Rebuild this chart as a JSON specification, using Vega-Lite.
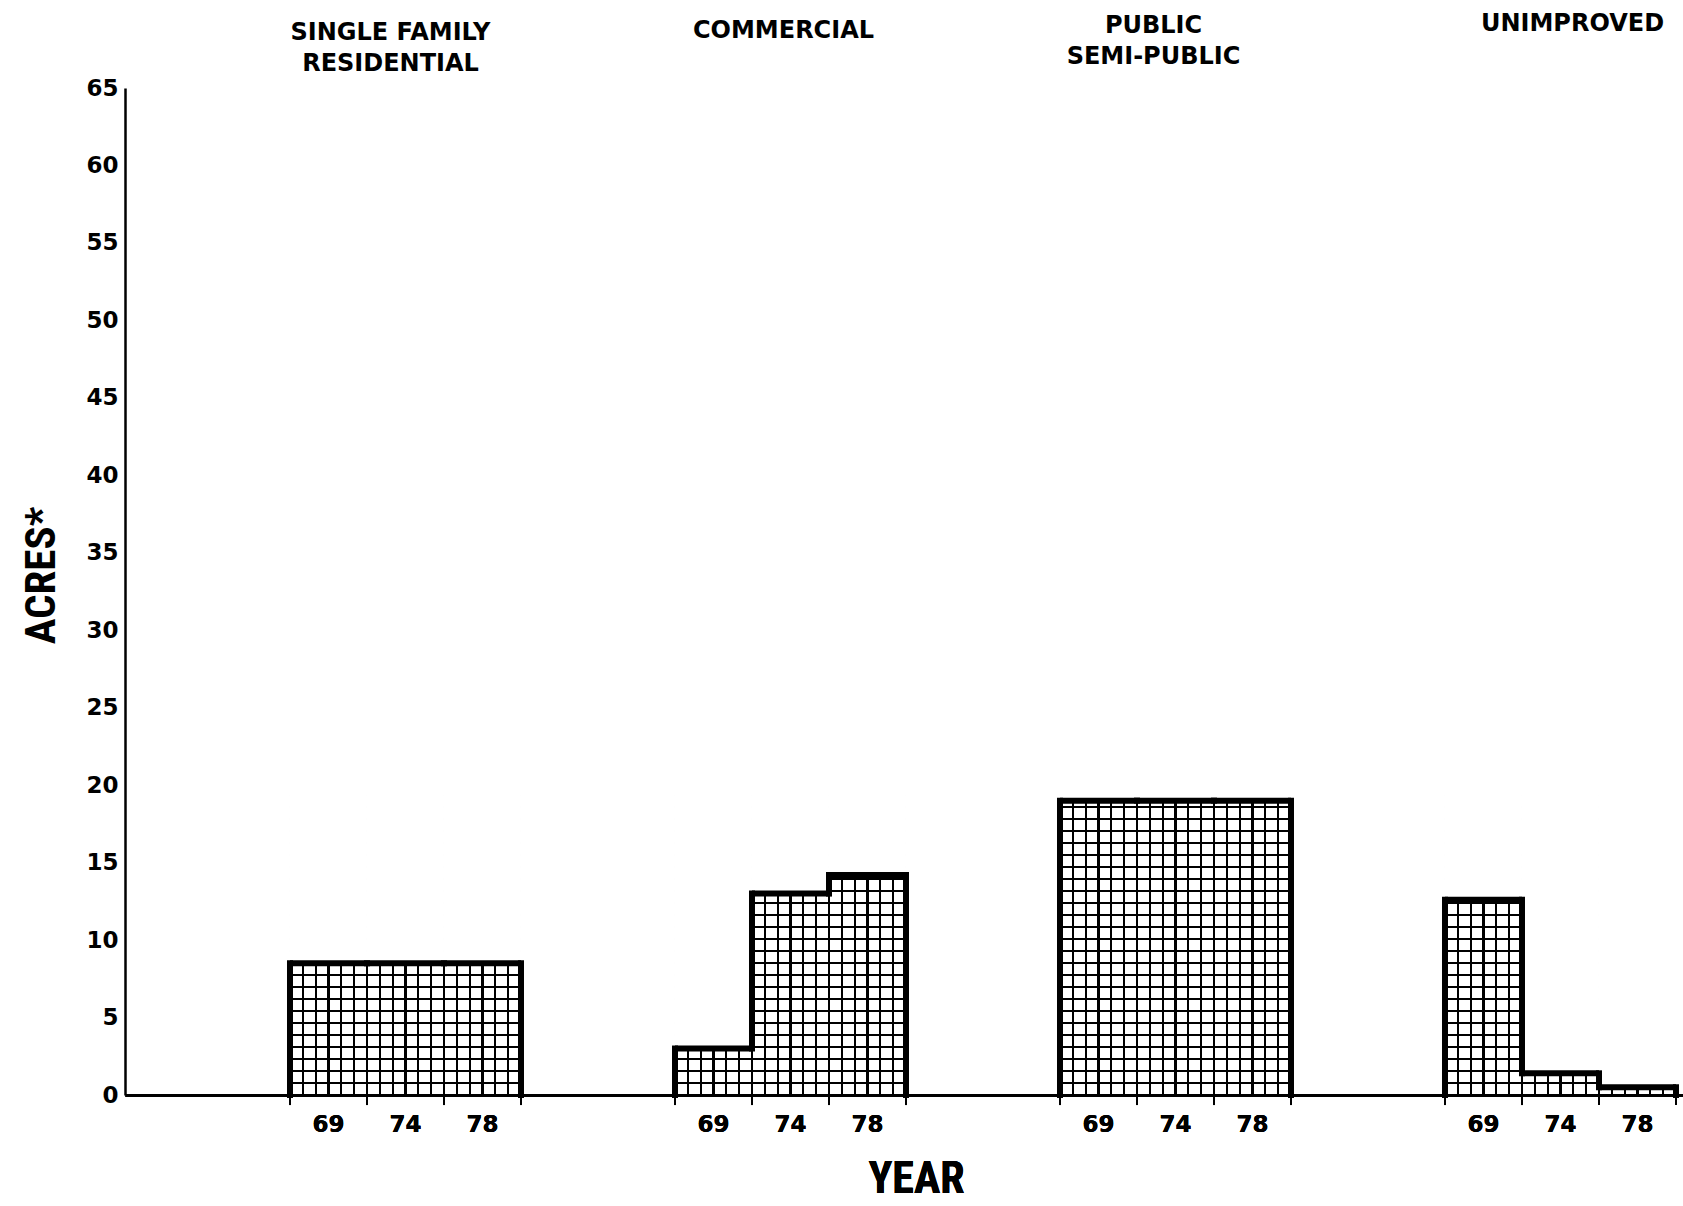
{
  "$schema": "https://vega.github.io/schema/vega-lite/v6.json",
  "width": 1558,
  "height": 1007,
  "autosize": {"type": "none"},
  "padding": {"left": 125, "top": 88, "right": 0, "bottom": 111},
  "background": "white",
  "config": {"view": {"stroke": null}, "axis": {"grid": false}},
  "data": {
    "values": [
      {"use": "Single Family Residential", "year": "69", "acres": 8.5},
      {"use": "Single Family Residential", "year": "74", "acres": 8.5},
      {"use": "Single Family Residential", "year": "78", "acres": 8.5},
      {"use": "Commercial", "year": "69", "acres": 3.0},
      {"use": "Commercial", "year": "74", "acres": 13.0},
      {"use": "Commercial", "year": "78", "acres": 14.2},
      {"use": "Public/Semi-Public", "year": "69", "acres": 19.0},
      {"use": "Public/Semi-Public", "year": "74", "acres": 19.0},
      {"use": "Public/Semi-Public", "year": "78", "acres": 19.0},
      {"use": "Unimproved", "year": "69", "acres": 12.6},
      {"use": "Unimproved", "year": "74", "acres": 1.4},
      {"use": "Unimproved", "year": "78", "acres": 0.5}
    ]
  },
  "transform": [
    {"calculate": "datum.use + '|' + datum.year", "as": "slot"},
    {"window": [{"op": "lag", "field": "acres", "as": "prev"}], "groupby": ["use"], "sort": [{"field": "year"}]},
    {"calculate": "datum.prev == null ? 0 : datum.prev", "as": "prev0"}
  ],
  "encoding": {
    "x": {
      "field": "slot", "type": "nominal",
      "scale": {"domain": ["_a", "_b", "Single Family Residential|69", "Single Family Residential|74", "Single Family Residential|78", "_c", "_d", "Commercial|69", "Commercial|74", "Commercial|78", "_e", "_f", "Public/Semi-Public|69", "Public/Semi-Public|74", "Public/Semi-Public|78", "_g", "_h", "Unimproved|69", "Unimproved|74", "Unimproved|78"], "paddingInner": 0, "paddingOuter": 0.11688, "align": 0.6111},
      "axis": {
        "orient": "bottom",
        "labelExpr": "indexof(datum.value, '|') > 0 ? split(datum.value, '|')[1] : ''",
        "labelFont": "DejaVu Sans", "labelFontWeight": "bold", "labelFontSize": 23, "labelColor": "black",
        "labelPadding": 18, "labelAngle": 0, "labelOverlap": false,
        "ticks": false, "tickSize": 0,
        "domainColor": "black", "domainWidth": 3, "zindex": 1,
        "title": "YEAR", "titleFont": "Liberation Sans Narrow, Roboto Condensed, DejaVu Sans Condensed, Liberation Sans, sans-serif",
        "titleFontWeight": "bold", "titleFontSize": 44, "titleColor": "black", "titlePadding": 21, "titleX": 791
      }
    }
  },
  "layer": [
    {
      "mark": {"type": "bar", "fill": {"gradient": "linear", "x1": 0, "y1": 0, "x2": 0, "y2": 1, "stops": [
        {"offset": 0, "color": "black"}, {"offset": 0.003333, "color": "black"}, {"offset": 0.003333, "color": "rgba(0,0,0,0)"},
        {"offset": 0.036667, "color": "rgba(0,0,0,0)"}, {"offset": 0.036667, "color": "black"}, {"offset": 0.043333, "color": "black"}, {"offset": 0.043333, "color": "rgba(0,0,0,0)"},
        {"offset": 0.076667, "color": "rgba(0,0,0,0)"}, {"offset": 0.076667, "color": "black"}, {"offset": 0.083333, "color": "black"}, {"offset": 0.083333, "color": "rgba(0,0,0,0)"},
        {"offset": 0.116667, "color": "rgba(0,0,0,0)"}, {"offset": 0.116667, "color": "black"}, {"offset": 0.123333, "color": "black"}, {"offset": 0.123333, "color": "rgba(0,0,0,0)"},
        {"offset": 0.156667, "color": "rgba(0,0,0,0)"}, {"offset": 0.156667, "color": "black"}, {"offset": 0.163333, "color": "black"}, {"offset": 0.163333, "color": "rgba(0,0,0,0)"},
        {"offset": 0.196667, "color": "rgba(0,0,0,0)"}, {"offset": 0.196667, "color": "black"}, {"offset": 0.203333, "color": "black"}, {"offset": 0.203333, "color": "rgba(0,0,0,0)"},
        {"offset": 0.236667, "color": "rgba(0,0,0,0)"}, {"offset": 0.236667, "color": "black"}, {"offset": 0.243333, "color": "black"}, {"offset": 0.243333, "color": "rgba(0,0,0,0)"},
        {"offset": 0.276667, "color": "rgba(0,0,0,0)"}, {"offset": 0.276667, "color": "black"}, {"offset": 0.283333, "color": "black"}, {"offset": 0.283333, "color": "rgba(0,0,0,0)"},
        {"offset": 0.316667, "color": "rgba(0,0,0,0)"}, {"offset": 0.316667, "color": "black"}, {"offset": 0.323333, "color": "black"}, {"offset": 0.323333, "color": "rgba(0,0,0,0)"},
        {"offset": 0.356667, "color": "rgba(0,0,0,0)"}, {"offset": 0.356667, "color": "black"}, {"offset": 0.363333, "color": "black"}, {"offset": 0.363333, "color": "rgba(0,0,0,0)"},
        {"offset": 0.396667, "color": "rgba(0,0,0,0)"}, {"offset": 0.396667, "color": "black"}, {"offset": 0.403333, "color": "black"}, {"offset": 0.403333, "color": "rgba(0,0,0,0)"},
        {"offset": 0.436667, "color": "rgba(0,0,0,0)"}, {"offset": 0.436667, "color": "black"}, {"offset": 0.443333, "color": "black"}, {"offset": 0.443333, "color": "rgba(0,0,0,0)"},
        {"offset": 0.476667, "color": "rgba(0,0,0,0)"}, {"offset": 0.476667, "color": "black"}, {"offset": 0.483333, "color": "black"}, {"offset": 0.483333, "color": "rgba(0,0,0,0)"},
        {"offset": 0.516667, "color": "rgba(0,0,0,0)"}, {"offset": 0.516667, "color": "black"}, {"offset": 0.523333, "color": "black"}, {"offset": 0.523333, "color": "rgba(0,0,0,0)"},
        {"offset": 0.556667, "color": "rgba(0,0,0,0)"}, {"offset": 0.556667, "color": "black"}, {"offset": 0.563333, "color": "black"}, {"offset": 0.563333, "color": "rgba(0,0,0,0)"},
        {"offset": 0.596667, "color": "rgba(0,0,0,0)"}, {"offset": 0.596667, "color": "black"}, {"offset": 0.603333, "color": "black"}, {"offset": 0.603333, "color": "rgba(0,0,0,0)"},
        {"offset": 0.636667, "color": "rgba(0,0,0,0)"}, {"offset": 0.636667, "color": "black"}, {"offset": 0.643333, "color": "black"}, {"offset": 0.643333, "color": "rgba(0,0,0,0)"},
        {"offset": 0.676667, "color": "rgba(0,0,0,0)"}, {"offset": 0.676667, "color": "black"}, {"offset": 0.683333, "color": "black"}, {"offset": 0.683333, "color": "rgba(0,0,0,0)"},
        {"offset": 0.716667, "color": "rgba(0,0,0,0)"}, {"offset": 0.716667, "color": "black"}, {"offset": 0.723333, "color": "black"}, {"offset": 0.723333, "color": "rgba(0,0,0,0)"},
        {"offset": 0.756667, "color": "rgba(0,0,0,0)"}, {"offset": 0.756667, "color": "black"}, {"offset": 0.763333, "color": "black"}, {"offset": 0.763333, "color": "rgba(0,0,0,0)"},
        {"offset": 0.796667, "color": "rgba(0,0,0,0)"}, {"offset": 0.796667, "color": "black"}, {"offset": 0.803333, "color": "black"}, {"offset": 0.803333, "color": "rgba(0,0,0,0)"},
        {"offset": 0.836667, "color": "rgba(0,0,0,0)"}, {"offset": 0.836667, "color": "black"}, {"offset": 0.843333, "color": "black"}, {"offset": 0.843333, "color": "rgba(0,0,0,0)"},
        {"offset": 0.876667, "color": "rgba(0,0,0,0)"}, {"offset": 0.876667, "color": "black"}, {"offset": 0.883333, "color": "black"}, {"offset": 0.883333, "color": "rgba(0,0,0,0)"},
        {"offset": 0.916667, "color": "rgba(0,0,0,0)"}, {"offset": 0.916667, "color": "black"}, {"offset": 0.923333, "color": "black"}, {"offset": 0.923333, "color": "rgba(0,0,0,0)"},
        {"offset": 0.956667, "color": "rgba(0,0,0,0)"}, {"offset": 0.956667, "color": "black"}, {"offset": 0.963333, "color": "black"}, {"offset": 0.963333, "color": "rgba(0,0,0,0)"},
        {"offset": 0.996667, "color": "rgba(0,0,0,0)"}, {"offset": 0.996667, "color": "black"}, {"offset": 1, "color": "black"}
      ]}},
      "encoding": {
        "y": {"datum": 19.36445, "type": "quantitative", "scale": {"domain": [0, 65], "nice": false},
          "axis": {"values": [0, 5, 10, 15, 20, 25, 30, 35, 40, 45, 50, 55, 60, 65], "title": "ACRES*", "titleFont": "Liberation Sans Narrow, Roboto Condensed, DejaVu Sans Condensed, Liberation Sans, sans-serif", "titleFontWeight": "bold", "titleFontSize": 43, "titleColor": "black", "titlePadding": 22, "titleY": 487, "labelFont": "DejaVu Sans", "labelFontWeight": "bold", "labelFontSize": 23, "labelColor": "black", "labelPadding": 7, "ticks": false, "tickSize": 0, "domainColor": "black", "domainWidth": 2.5, "grid": false, "zindex": 1}},
        "y2": {"datum": 0}
      }
    },
    {
      "mark": {"type": "bar", "fill": {"gradient": "linear", "x1": 0, "y1": 0, "x2": 1, "y2": 0, "stops": [
        {"offset": 0, "color": "black"}, {"offset": 0.013, "color": "black"}, {"offset": 0.013, "color": "rgba(0,0,0,0)"},
        {"offset": 0.1537, "color": "rgba(0,0,0,0)"}, {"offset": 0.1537, "color": "black"}, {"offset": 0.1797, "color": "black"}, {"offset": 0.1797, "color": "rgba(0,0,0,0)"},
        {"offset": 0.3203, "color": "rgba(0,0,0,0)"}, {"offset": 0.3203, "color": "black"}, {"offset": 0.3463, "color": "black"}, {"offset": 0.3463, "color": "rgba(0,0,0,0)"},
        {"offset": 0.487, "color": "rgba(0,0,0,0)"}, {"offset": 0.487, "color": "black"}, {"offset": 0.513, "color": "black"}, {"offset": 0.513, "color": "rgba(0,0,0,0)"},
        {"offset": 0.6537, "color": "rgba(0,0,0,0)"}, {"offset": 0.6537, "color": "black"}, {"offset": 0.6797, "color": "black"}, {"offset": 0.6797, "color": "rgba(0,0,0,0)"},
        {"offset": 0.8203, "color": "rgba(0,0,0,0)"}, {"offset": 0.8203, "color": "black"}, {"offset": 0.8463, "color": "black"}, {"offset": 0.8463, "color": "rgba(0,0,0,0)"},
        {"offset": 0.987, "color": "rgba(0,0,0,0)"}, {"offset": 0.987, "color": "black"}, {"offset": 1, "color": "black"}
      ]}},
      "encoding": {
        "y": {"field": "acres", "type": "quantitative", "stack": null, "scale": {"domain": [0, 65], "nice": false},
          "axis": {"values": [0, 5, 10, 15, 20, 25, 30, 35, 40, 45, 50, 55, 60, 65], "title": "ACRES*", "titleFont": "Liberation Sans Narrow, Roboto Condensed, DejaVu Sans Condensed, Liberation Sans, sans-serif", "titleFontWeight": "bold", "titleFontSize": 43, "titleColor": "black", "titlePadding": 22, "titleY": 487, "labelFont": "DejaVu Sans", "labelFontWeight": "bold", "labelFontSize": 23, "labelColor": "black", "labelPadding": 7, "ticks": false, "tickSize": 0, "domainColor": "black", "domainWidth": 2.5, "grid": false, "zindex": 1}}
      }
    },
    {
      "mark": {"type": "bar", "fill": "white"},
      "encoding": {
        "x": {
          "field": "slot", "type": "nominal",
          "scale": {"domain": ["_a", "_b", "Single Family Residential|69", "Single Family Residential|74", "Single Family Residential|78", "_c", "_d", "Commercial|69", "Commercial|74", "Commercial|78", "_e", "_f", "Public/Semi-Public|69", "Public/Semi-Public|74", "Public/Semi-Public|78", "_g", "_h", "Unimproved|69", "Unimproved|74", "Unimproved|78"], "paddingInner": 0, "paddingOuter": 0.11688, "align": 0.6111},
          "axis": {
            "orient": "top", "title": null, "domain": false, "ticks": false, "tickSize": 0,
            "labelExpr": "datum.value == 'Single Family Residential|74' ? ['SINGLE FAMILY', 'RESIDENTIAL'] : datum.value == 'Commercial|74' ? 'COMMERCIAL' : datum.value == 'Public/Semi-Public|74' ? ['PUBLIC', 'SEMI-PUBLIC'] : datum.value == 'Unimproved|74' ? 'UNIMPROVED' : ''",
            "labelFont": "DejaVu Sans", "labelFontWeight": "bold", "labelFontSize": 24, "labelColor": "black",
            "labelBaseline": "top", "labelLineHeight": 31, "labelAngle": 0, "labelOverlap": false, "labelLimit": 500,
            "labelPadding": {"condition": [
              {"test": "datum.value == 'Single Family Residential|74'", "value": 68},
              {"test": "datum.value == 'Commercial|74'", "value": 70},
              {"test": "datum.value == 'Public/Semi-Public|74'", "value": 75}
            ], "value": 77},
            "labelOffset": {"condition": [
              {"test": "datum.value == 'Single Family Residential|74'", "value": -15},
              {"test": "datum.value == 'Commercial|74'", "value": -7},
              {"test": "datum.value == 'Public/Semi-Public|74'", "value": -22}
            ], "value": 12}
          }
        },
        "y": {"field": "acres", "type": "quantitative", "stack": null, "scale": {"domain": [0, 65], "nice": false},
          "axis": {"values": [0, 5, 10, 15, 20, 25, 30, 35, 40, 45, 50, 55, 60, 65], "title": "ACRES*", "titleFont": "Liberation Sans Narrow, Roboto Condensed, DejaVu Sans Condensed, Liberation Sans, sans-serif", "titleFontWeight": "bold", "titleFontSize": 43, "titleColor": "black", "titlePadding": 22, "titleY": 487, "labelFont": "DejaVu Sans", "labelFontWeight": "bold", "labelFontSize": 23, "labelColor": "black", "labelPadding": 7, "ticks": false, "tickSize": 0, "domainColor": "black", "domainWidth": 2.5, "grid": false, "zindex": 1}},
        "y2": {"datum": 19.36445}
      }
    },
    {
      "mark": {"type": "rule", "color": "black", "strokeWidth": 2},
      "encoding": {
        "x": {"field": "slot", "type": "nominal", "bandPosition": 0, "axis": null,
          "scale": {"domain": ["_a", "_b", "Single Family Residential|69", "Single Family Residential|74", "Single Family Residential|78", "_c", "_d", "Commercial|69", "Commercial|74", "Commercial|78", "_e", "_f", "Public/Semi-Public|69", "Public/Semi-Public|74", "Public/Semi-Public|78", "_g", "_h", "Unimproved|69", "Unimproved|74", "Unimproved|78"], "paddingInner": 0, "paddingOuter": 0.11688, "align": 0.6111}},
        "y": {"datum": 0, "type": "quantitative", "scale": {"domain": [0, 65], "nice": false},
          "axis": {"values": [0, 5, 10, 15, 20, 25, 30, 35, 40, 45, 50, 55, 60, 65], "title": "ACRES*", "titleFont": "Liberation Sans Narrow, Roboto Condensed, DejaVu Sans Condensed, Liberation Sans, sans-serif", "titleFontWeight": "bold", "titleFontSize": 43, "titleColor": "black", "titlePadding": 22, "titleY": 487, "labelFont": "DejaVu Sans", "labelFontWeight": "bold", "labelFontSize": 23, "labelColor": "black", "labelPadding": 7, "ticks": false, "tickSize": 0, "domainColor": "black", "domainWidth": 2.5, "grid": false, "zindex": 1}},
        "y2": {"datum": -0.65}
      }
    },
    {
      "transform": [{"filter": "datum.year == '78'"}],
      "mark": {"type": "rule", "color": "black", "strokeWidth": 2},
      "encoding": {
        "x": {"field": "slot", "type": "nominal", "bandPosition": 1, "axis": null,
          "scale": {"domain": ["_a", "_b", "Single Family Residential|69", "Single Family Residential|74", "Single Family Residential|78", "_c", "_d", "Commercial|69", "Commercial|74", "Commercial|78", "_e", "_f", "Public/Semi-Public|69", "Public/Semi-Public|74", "Public/Semi-Public|78", "_g", "_h", "Unimproved|69", "Unimproved|74", "Unimproved|78"], "paddingInner": 0, "paddingOuter": 0.11688, "align": 0.6111}},
        "y": {"datum": 0, "type": "quantitative", "scale": {"domain": [0, 65], "nice": false},
          "axis": {"values": [0, 5, 10, 15, 20, 25, 30, 35, 40, 45, 50, 55, 60, 65], "title": "ACRES*", "titleFont": "Liberation Sans Narrow, Roboto Condensed, DejaVu Sans Condensed, Liberation Sans, sans-serif", "titleFontWeight": "bold", "titleFontSize": 43, "titleColor": "black", "titlePadding": 22, "titleY": 487, "labelFont": "DejaVu Sans", "labelFontWeight": "bold", "labelFontSize": 23, "labelColor": "black", "labelPadding": 7, "ticks": false, "tickSize": 0, "domainColor": "black", "domainWidth": 2.5, "grid": false, "zindex": 1}},
        "y2": {"datum": -0.65}
      }
    },
    {
      "mark": {"type": "rule", "color": "black", "strokeWidth": 6, "strokeCap": "square"},
      "encoding": {
        "x": {"field": "slot", "type": "nominal", "bandPosition": 0, "axis": null,
          "scale": {"domain": ["_a", "_b", "Single Family Residential|69", "Single Family Residential|74", "Single Family Residential|78", "_c", "_d", "Commercial|69", "Commercial|74", "Commercial|78", "_e", "_f", "Public/Semi-Public|69", "Public/Semi-Public|74", "Public/Semi-Public|78", "_g", "_h", "Unimproved|69", "Unimproved|74", "Unimproved|78"], "paddingInner": 0, "paddingOuter": 0.11688, "align": 0.6111}},
        "y": {"field": "acres", "type": "quantitative", "scale": {"domain": [0, 65], "nice": false},
          "axis": {"values": [0, 5, 10, 15, 20, 25, 30, 35, 40, 45, 50, 55, 60, 65], "title": "ACRES*", "titleFont": "Liberation Sans Narrow, Roboto Condensed, DejaVu Sans Condensed, Liberation Sans, sans-serif", "titleFontWeight": "bold", "titleFontSize": 43, "titleColor": "black", "titlePadding": 22, "titleY": 487, "labelFont": "DejaVu Sans", "labelFontWeight": "bold", "labelFontSize": 23, "labelColor": "black", "labelPadding": 7, "ticks": false, "tickSize": 0, "domainColor": "black", "domainWidth": 2.5, "grid": false, "zindex": 1}},
        "y2": {"field": "prev0"}
      }
    },
    {
      "transform": [{"filter": "datum.year == '78'"}],
      "mark": {"type": "rule", "color": "black", "strokeWidth": 6, "strokeCap": "square"},
      "encoding": {
        "x": {"field": "slot", "type": "nominal", "bandPosition": 1, "axis": null,
          "scale": {"domain": ["_a", "_b", "Single Family Residential|69", "Single Family Residential|74", "Single Family Residential|78", "_c", "_d", "Commercial|69", "Commercial|74", "Commercial|78", "_e", "_f", "Public/Semi-Public|69", "Public/Semi-Public|74", "Public/Semi-Public|78", "_g", "_h", "Unimproved|69", "Unimproved|74", "Unimproved|78"], "paddingInner": 0, "paddingOuter": 0.11688, "align": 0.6111}},
        "y": {"field": "acres", "type": "quantitative", "scale": {"domain": [0, 65], "nice": false},
          "axis": {"values": [0, 5, 10, 15, 20, 25, 30, 35, 40, 45, 50, 55, 60, 65], "title": "ACRES*", "titleFont": "Liberation Sans Narrow, Roboto Condensed, DejaVu Sans Condensed, Liberation Sans, sans-serif", "titleFontWeight": "bold", "titleFontSize": 43, "titleColor": "black", "titlePadding": 22, "titleY": 487, "labelFont": "DejaVu Sans", "labelFontWeight": "bold", "labelFontSize": 23, "labelColor": "black", "labelPadding": 7, "ticks": false, "tickSize": 0, "domainColor": "black", "domainWidth": 2.5, "grid": false, "zindex": 1}},
        "y2": {"datum": 0}
      }
    },
    {
      "mark": {"type": "bar", "fill": null, "stroke": "black", "strokeWidth": 6},
      "encoding": {
        "y": {"field": "acres", "type": "quantitative", "stack": null, "scale": {"domain": [0, 65], "nice": false},
          "axis": {"values": [0, 5, 10, 15, 20, 25, 30, 35, 40, 45, 50, 55, 60, 65], "title": "ACRES*", "titleFont": "Liberation Sans Narrow, Roboto Condensed, DejaVu Sans Condensed, Liberation Sans, sans-serif", "titleFontWeight": "bold", "titleFontSize": 43, "titleColor": "black", "titlePadding": 22, "titleY": 487, "labelFont": "DejaVu Sans", "labelFontWeight": "bold", "labelFontSize": 23, "labelColor": "black", "labelPadding": 7, "ticks": false, "tickSize": 0, "domainColor": "black", "domainWidth": 2.5, "grid": false, "zindex": 1}},
        "y2": {"field": "acres"}
      }
    }
  ]
}
